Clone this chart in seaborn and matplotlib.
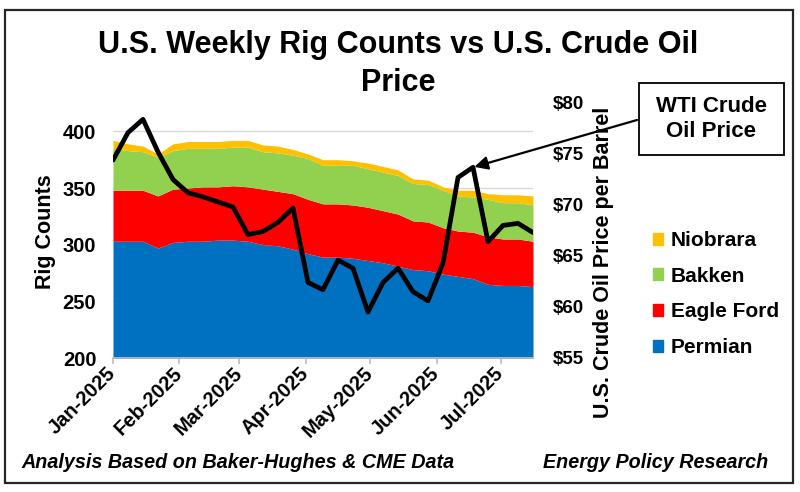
import numpy as np
import pandas as pd
import matplotlib
matplotlib.use("Agg")
import matplotlib.pyplot as plt
import matplotlib.dates as mdates
from matplotlib.patches import Patch, Rectangle
from matplotlib.ticker import FuncFormatter
import seaborn as sns

# weekly data, Jan 3 2025 .. Jul 18 2025
dates = pd.date_range("2025-01-03", periods=29, freq="7D")
permian = [303, 303, 303, 297, 302, 303, 303, 304, 304, 303, 300, 299, 296, 292, 289,
           289, 288, 286, 284, 281, 278, 277, 274, 272, 270, 265, 264, 264, 263]
eagle_ford = [45, 45, 45, 46, 47, 47, 48, 47, 48, 48, 49, 48, 49, 48, 47,
              47, 47, 47, 46, 46, 43, 43, 41, 40, 41, 42, 41, 41, 40]
bakken = [37, 35, 34, 34, 34, 35, 34, 34, 34, 35, 33, 34, 34, 36, 34,
          34, 35, 34, 34, 34, 33, 33, 33, 31, 31, 33, 32, 32, 32]
niobrara = [7, 6, 5, 3, 6, 6, 6, 6, 6, 6, 6, 6, 5, 4, 5,
            5, 4, 5, 5, 5, 4, 4, 3, 5, 6, 5, 7, 7, 8]
wti = [74.4, 77.1, 78.4, 75.2, 72.5, 71.2, 70.8, 70.3, 69.8, 67.1, 67.4, 68.3, 69.7, 62.4, 61.7,
       64.6, 63.8, 59.5, 62.4, 63.8, 61.5, 60.6, 64.3, 72.7, 73.7, 66.4, 68.0, 68.2, 67.3]

basins = ["Permian", "Eagle Ford", "Bakken", "Niobrara"]
colors = ["#0070C0", "#FF0000", "#92D050", "#FFC000"]

df = pd.DataFrame({"date": dates, "wti": wti})

sns.set_theme(style="white")
plt.rcParams["font.family"] = ["Liberation Sans", "DejaVu Sans"]
plt.rcParams["font.weight"] = "bold"
for k in ["text.color", "axes.labelcolor", "xtick.color", "ytick.color"]:
    plt.rcParams[k] = "black"

W, H = 800, 492
fig = plt.figure(figsize=(8, 4.92), dpi=100)
ax = fig.add_axes([113 / W, 1 - 358 / H, 420 / W, 255 / H])

ax.stackplot(dates, permian, eagle_ford, bakken, niobrara, colors=colors, lw=0, zorder=2)
ax.set_ylim(200, 425)
ax.set_yticks(range(200, 401, 50))
ax.yaxis.grid(True, color="#D9D9D9", lw=1, zorder=0)
ax.set_axisbelow(True)
for s in ["left", "right", "top"]:
    ax.spines[s].set_visible(False)
ax.spines["bottom"].set_color("#BFBFBF")
ax.set_xlim(dates[0], dates[-1])
ticks = pd.date_range("2025-01-03", periods=7, freq=pd.DateOffset(months=1))
ax.set_xticks(ticks)
ax.xaxis.set_major_formatter(mdates.DateFormatter("%b-%Y"))
ax.tick_params(axis="x", length=4, color="#BFBFBF", direction="out", bottom=True, pad=5,
               labelcolor="black")
ax.tick_params(axis="y", length=0, pad=12, labelcolor="black")
for lab in ax.get_xticklabels():
    lab.set_rotation(45)
    lab.set_ha("right")
    lab.set_va("center")
    lab.set_rotation_mode("anchor")
for lab in ax.get_xticklabels() + ax.get_yticklabels():
    lab.set_fontsize(14.5)
    lab.set_fontweight("bold")
ax.set_ylabel("")
ax.set_xlabel("")

ax2 = ax.twinx()
sns.lineplot(data=df, x="date", y="wti", ax=ax2, color="black", lw=3.4, zorder=5)
ax2.set_ylim(55, 80)
ax2.set_yticks(range(55, 81, 5))
ax2.yaxis.set_major_formatter(FuncFormatter(lambda v, p: f"${v:.0f}"))
ax2.tick_params(axis="y", length=0, pad=14, labelcolor="black")
for lab in ax2.get_yticklabels():
    lab.set_fontsize(13.5)
    lab.set_fontweight("bold")
for s in ax2.spines.values():
    s.set_visible(False)
ax2.set_ylabel("")
ax2.set_xlabel("")
ax2.set_xlim(dates[0], dates[-1])

# callout box + arrow
fig.add_artist(Rectangle((639 / W, 1 - 155 / H), 145 / W, 72 / H, transform=fig.transFigure,
                         fc="white", ec="black", lw=1.3))
fig.text(711 / W, 1 - 119 / H, "WTI Crude\nOil Price", ha="center", va="center",
         fontsize=16, fontweight="bold", linespacing=1.25)
ax2.annotate("", xy=(dates[24], wti[24]), xytext=(637, H - 120), textcoords="figure pixels",
             arrowprops=dict(arrowstyle="-|>", color="black", lw=1.6, mutation_scale=20,
                             shrinkA=0, shrinkB=1))

fig.text(398 / W, 1 - 64 / H, "U.S. Weekly Rig Counts vs U.S. Crude Oil\nPrice",
         ha="center", va="center", fontsize=22, fontweight="bold", linespacing=1.32)
fig.text(45 / W, 1 - 232 / H, "Rig Counts", rotation=90, ha="center", va="center",
         fontsize=15.5, fontweight="bold")
fig.text(604 / W, 1 - 262 / H, "U.S. Crude Oil Price per Barrel", rotation=90,
         ha="center", va="center", fontsize=15.5, fontweight="bold")
fig.text(21 / W, 1 - 462 / H, "Analysis Based on Baker-Hughes & CME Data",
         ha="left", va="center", fontsize=14.2, fontweight="bold", fontstyle="italic")
fig.text(768 / W, 1 - 462 / H, "Energy Policy Research",
         ha="right", va="center", fontsize=14.2, fontweight="bold", fontstyle="italic")

handles = [Patch(color=c, label=b) for b, c in zip(basins, colors)][::-1]
fig.legend(handles=handles, loc="upper left", bbox_to_anchor=(653 / W, 1 - 231 / H),
           frameon=False, handlelength=0.5, handleheight=0.5,
           handletextpad=0.35, labelspacing=0.8, borderpad=0, borderaxespad=0,
           prop={"weight": "bold", "size": 15})

fig.add_artist(Rectangle((5 / W, 1 - 483 / H), 788 / W, 473 / H, transform=fig.transFigure,
                         fill=False, ec="#262626", lw=1.6))

fig.savefig("out.png", dpi=100)
